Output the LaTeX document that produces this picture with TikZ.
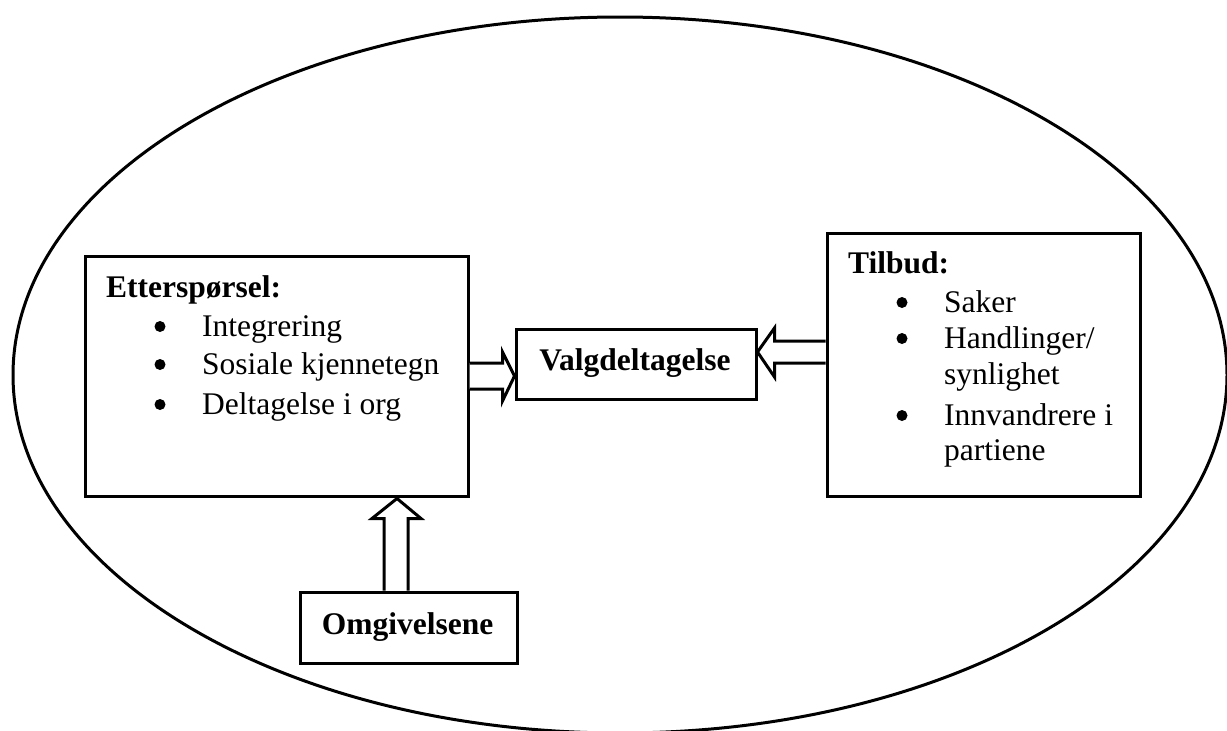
\documentclass[tikz,border=0pt]{standalone}
\usepackage{fontspec}
\setmainfont{Liberation Serif}
\usetikzlibrary{calc}
\tikzset{
  box/.style={draw, line width=3pt, rectangle, inner sep=0pt},
  txt/.style={inner sep=0pt, anchor=base west, font=\fontsize{31.5}{38}\selectfont},
  ttl/.style={inner sep=0pt, anchor=base west, font=\fontsize{31.5}{38}\selectfont\bfseries},
  bul/.style={circle, fill=black, inner sep=0pt, minimum size=11pt},
  hollow/.style={draw, line width=3pt, line join=miter, fill=white},
}
\begin{document}
\begin{tikzpicture}[x=1pt,y=-1pt]
\useasboundingbox (0,0) rectangle (1227,731);
% outer ellipse
\draw[line width=3pt] (620,375) ellipse [x radius=607pt, y radius=358pt];
% boxes
\node[box, minimum width=383pt, minimum height=240pt] (ett) at (276.5,376) {};
\node[box, minimum width=240pt, minimum height=70pt] (valg) at (636,364) {};
\node[box, minimum width=313pt, minimum height=263pt] (tilb) at (983.5,364.5) {};
\node[box, minimum width=217pt, minimum height=71pt] (omg) at (408.5,627.5) {};
% texts
\node[ttl] (ettT) at (106,297) {Etterspørsel:};
\node[bul] (eb1) at (160,326.5) {};
\node[txt] (e1) at (202,336) {Integrering};
\node[bul] (eb2) at (160,364.5) {};
\node[txt] (e2) at (202,374) {Sosiale kjennetegn};
\node[bul] (eb3) at (160,404.5) {};
\node[txt] (e3) at (202,414) {Deltagelse i org};
\node[ttl, anchor=base] (valgT) at (635,370) {Valgdeltagelse};
\node[ttl] (tilT) at (848,273) {Tilbud:};
\node[bul] (tb1) at (902,302.5) {};
\node[txt] (t1) at (944,312) {Saker};
\node[bul] (tb2) at (902,338.5) {};
\node[txt] (t2) at (944,348) {Handlinger/};
\node[txt] (t2b) at (944,384) {synlighet};
\node[bul] (tb3) at (902,415.5) {};
\node[txt] (t3) at (944,425) {Innvandrere i};
\node[txt] (t3b) at (944,460) {partiene};
\node[ttl, anchor=base] (omgT) at (407.5,634) {Omgivelsene};
% arrow: Etterspørsel -> Valgdeltagelse
\draw[hollow] ($(ett.east)+(0,-13)$) -- ($(valg.west)+(-12,-1)$) -- ($(valg.west)+(-12,-12)$)
  -- ($(valg.west)+(0,12)$) -- ($(valg.west)+(-12,37)$) -- ($(valg.west)+(-12,25)$) -- ($(ett.east)+(0,13)$);
% arrow: Tilbud -> Valgdeltagelse
\draw[hollow] ($(tilb.west)+(0,-23.5)$) -- ($(valg.east)+(17,-23)$) -- ($(valg.east)+(17,-36)$)
  -- ($(valg.east)+(0,-12)$) -- ($(valg.east)+(17,13)$) -- ($(valg.east)+(17,-1)$) -- ($(tilb.west)+(0,-1.5)$);
% arrow: Omgivelsene -> Etterspørsel
\draw[hollow] ($(omg.north)+(-24.5,0)$) -- ($(omg.north)+(-24.5,-72)$) -- ($(omg.north)+(-36.5,-72)$)
  -- ($(ett.south)+(120.5,1)$) -- ($(omg.north)+(12.5,-72)$) -- ($(omg.north)+(-0.5,-72)$) -- ($(omg.north)+(-0.5,0)$);
\end{tikzpicture}
\end{document}
